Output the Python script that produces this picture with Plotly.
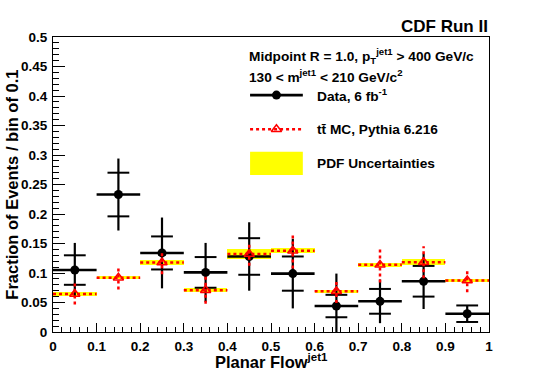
import plotly.graph_objs as go

# bin centres of planar flow (bin width 0.1)
bin_centers = [0.05, 0.15, 0.25, 0.35, 0.45, 0.55, 0.65, 0.75, 0.85, 0.95]
bin_half = 0.05

# data, 6 fb-1
data_vals = [0.105, 0.233, 0.134, 0.101, 0.128, 0.099, 0.044, 0.052, 0.086, 0.031]
data_stat = [0.025, 0.037, 0.028, 0.026, 0.031, 0.029, 0.019, 0.021, 0.026, 0.014]
data_tot = [0.046, 0.061, 0.060, 0.050, 0.058, 0.059, 0.055, 0.037, 0.047, 0.014]

# ttbar MC, Pythia 6.216
mc_vals = [0.0645, 0.092, 0.1178, 0.0708, 0.1322, 0.1376, 0.069, 0.1138, 0.1183, 0.0873]
mc_err = [0.018, 0.020, 0.020, 0.023, 0.020, 0.030, 0.020, 0.030, 0.027, 0.020]
mc_pdf = [0.003, 0.003, 0.004, 0.003, 0.009, 0.004, 0.003, 0.003, 0.005, 0.003]

x_ticks = [0, 0.1, 0.2, 0.3, 0.4, 0.5, 0.6, 0.7, 0.8, 0.9, 1]
x_labels = ["0", "0.1", "0.2", "0.3", "0.4", "0.5", "0.6", "0.7", "0.8", "0.9", "1"]
y_ticks = [0, 0.05, 0.1, 0.15, 0.2, 0.25, 0.3, 0.35, 0.4, 0.45, 0.5]
y_labels = ["0", "0.05", "0.1", "0.15", "0.2", "0.25", "0.3", "0.35", "0.4", "0.45", "0.5"]

FONT = "Liberation Sans, Arial, Helvetica, sans-serif"
RED = "#ff0000"
YELLOW = "#ffff00"


def segs(x0, x1, y0, y1):
    # build a broken line (None separated) from lists of segment ends
    xs, ys = [], []
    for a, b, c, d in zip(x0, x1, y0, y1):
        xs += [a, b, None]
        ys += [c, d, None]
    return xs, ys


fig = go.Figure()

# PDF uncertainty band
fig.add_trace(go.Bar(x=bin_centers, y=[2 * p for p in mc_pdf],
                     base=[m - p for m, p in zip(mc_vals, mc_pdf)],
                     width=2 * bin_half, marker=dict(color=YELLOW, line_width=0),
                     showlegend=False))

# data: total error (vertical), bin width (horizontal), stat ticks
xs, ys = segs(bin_centers, bin_centers,
              [v - e for v, e in zip(data_vals, data_tot)],
              [v + e for v, e in zip(data_vals, data_tot)])
fig.add_trace(go.Scatter(x=xs, y=ys, mode="lines", line=dict(color="black", width=2.2),
                         showlegend=False))
xs, ys = segs([c - bin_half for c in bin_centers], [c + bin_half for c in bin_centers],
              data_vals, data_vals)
fig.add_trace(go.Scatter(x=xs, y=ys, mode="lines", line=dict(color="black", width=2.6),
                         showlegend=False))
tick_x0 = [c - bin_half / 2 for c in bin_centers]
tick_x1 = [c + bin_half / 2 for c in bin_centers]
stat_hi = [v + s for v, s in zip(data_vals, data_stat)]
stat_lo = [v - s for v, s in zip(data_vals, data_stat)]
xs, ys = segs(tick_x0 + tick_x0, tick_x1 + tick_x1, stat_hi + stat_lo, stat_hi + stat_lo)
fig.add_trace(go.Scatter(x=xs, y=ys, mode="lines", line=dict(color="black", width=2),
                         showlegend=False))
fig.add_trace(go.Scatter(x=bin_centers, y=data_vals, mode="markers",
                         marker=dict(color="black", size=9, symbol="circle"), showlegend=False))

# MC: dotted bin lines, dotted error bars, open triangles
xs, ys = segs([c - bin_half for c in bin_centers], [c + bin_half for c in bin_centers],
              mc_vals, mc_vals)
fig.add_trace(go.Scatter(x=xs, y=ys, mode="lines",
                         line=dict(color=RED, width=2.5, dash="3px,3px"), showlegend=False))
xs, ys = segs(bin_centers, bin_centers,
              [v - e for v, e in zip(mc_vals, mc_err)],
              [v + e for v, e in zip(mc_vals, mc_err)])
fig.add_trace(go.Scatter(x=xs, y=ys, mode="lines",
                         line=dict(color=RED, width=2.5, dash="3px,3px"), showlegend=False))
fig.add_trace(go.Scatter(x=bin_centers, y=mc_vals, mode="markers",
                         marker=dict(color=RED, size=9, symbol="triangle-up-open",
                                     line=dict(width=1.5, color=RED)),
                         showlegend=False))

# legend samples on an overlay axis in [0, 1] units
leg_x = [0.452, 0.573]
leg_y = [0.803, 0.687]
fig.add_trace(go.Scatter(x=leg_x, y=[leg_y[0]] * 2, mode="lines", xaxis="x2", yaxis="y2",
                         line=dict(color="black", width=2.6), showlegend=False))
fig.add_trace(go.Scatter(x=[sum(leg_x) / 2], y=[leg_y[0]], mode="markers", xaxis="x2", yaxis="y2",
                         marker=dict(color="black", size=9), showlegend=False))
fig.add_trace(go.Scatter(x=leg_x, y=[leg_y[1]] * 2, mode="lines", xaxis="x2", yaxis="y2",
                         line=dict(color=RED, width=2.5, dash="3px,3px"), showlegend=False))
fig.add_trace(go.Scatter(x=[sum(leg_x) / 2], y=[leg_y[1]], mode="markers", xaxis="x2", yaxis="y2",
                         marker=dict(color=RED, size=9, symbol="triangle-up-open",
                                     line=dict(width=1.5, color=RED)),
                         showlegend=False))
fig.add_shape(type="rect", xref="paper", yref="paper", x0=leg_x[0], x1=leg_x[1],
              y0=0.532, y1=0.611, fillcolor=YELLOW, line_width=0)

bold = dict(family=FONT, size=13.7, color="black", weight="bold")
notes = [
    (0.445, 0.935, "Midpoint R = 1.0, p<sub>T</sub><sup>jet1</sup> > 400 GeV/c"),
    (0.445, 0.868, "130 < m<sup>jet1</sup> < 210 GeV/c<sup>2</sup>"),
    (0.601, leg_y[0], "Data, 6 fb<sup>-1</sup>"),
    (0.601, leg_y[1], "tt\u0304 MC, Pythia 6.216"),
    (0.601, 0.571, "PDF Uncertainties"),
]
for x, y, t in notes:
    fig.add_annotation(x=x, y=y, xref="paper", yref="paper", text=t, showarrow=False,
                       xanchor="left", yanchor="middle", font=bold)

fig.add_annotation(x=1.003, y=1.035, xref="paper", yref="paper", text="CDF Run II",
                   showarrow=False, xanchor="right", yanchor="middle",
                   font=dict(family=FONT, size=17, color="black", weight="bold"))
fig.add_annotation(x=0.5, y=-0.057, xref="paper", yref="paper", text="Planar Flow<sup>jet1</sup>",
                   showarrow=False, xanchor="center", yanchor="top",
                   font=dict(family=FONT, size=16.5, color="black", weight="bold"))
fig.add_annotation(x=-0.096, y=0.5, xref="paper", yref="paper",
                   text="Fraction of Events / bin of 0.1", textangle=-90,
                   showarrow=False, xanchor="center", yanchor="middle",
                   font=dict(family=FONT, size=16.5, color="black", weight="bold"))

tickfont = dict(family=FONT, size=13.5, color="black", weight="bold")
fig.update_layout(
    width=545, height=369,
    margin=dict(l=53, r=56, t=37, b=37),
    paper_bgcolor="white", plot_bgcolor="white",
    barmode="overlay", bargap=0,
    xaxis=dict(range=[0, 1], tickvals=x_ticks, ticktext=x_labels, ticks="inside",
               ticklen=9, tickwidth=1, tickcolor="black", showgrid=False, zeroline=False,
               showline=True, linecolor="black", linewidth=1, mirror=True,
               tickfont=tickfont, ticklabelstandoff=2,
               minor=dict(dtick=0.02, ticks="inside", ticklen=5, tickcolor="black")),
    yaxis=dict(range=[0, 0.5], tickvals=y_ticks, ticktext=y_labels, ticks="inside",
               ticklen=12, tickwidth=1, tickcolor="black", showgrid=False, zeroline=False,
               showline=True, linecolor="black", linewidth=1, mirror=True,
               tickfont=tickfont, ticklabelstandoff=2,
               minor=dict(dtick=0.01, ticks="inside", ticklen=6, tickcolor="black")),
    xaxis2=dict(range=[0, 1], overlaying="x", visible=False),
    yaxis2=dict(range=[0, 1], overlaying="y", visible=False),
)

# drop the default page margin so the figure fills the window exactly
fig.write_html("out.html", config={"displayModeBar": False},
               post_script="document.body.style.margin = '0';")
